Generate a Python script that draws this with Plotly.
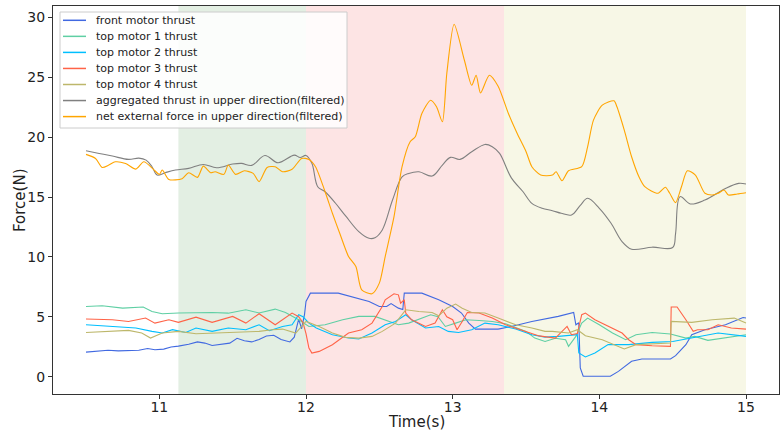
import plotly.graph_objects as go

# ---- thrust / force traces (time in s, force in N) ----
t_front = [10.50, 10.58, 10.65, 10.72, 10.80, 10.86, 10.92, 10.97, 11.03, 11.08, 11.13, 11.20, 11.26, 11.31,
           11.36, 11.42, 11.48, 11.53, 11.58, 11.63, 11.68, 11.73, 11.78, 11.83, 11.89, 11.92, 11.95, 11.97,
           11.99, 12.00, 12.03, 12.22, 12.34, 12.43, 12.50, 12.55, 12.58, 12.63, 12.66, 12.67, 12.79, 12.905,
           13.00, 13.06, 13.11, 13.155, 13.31, 13.40, 13.54, 13.655, 13.72, 13.825, 13.84, 13.86, 13.87, 13.89,
           14.075, 14.13, 14.22, 14.29, 14.485, 14.52, 14.59, 14.63, 14.72, 14.86, 14.98, 15.00]
f_front = [2.05, 2.12, 2.2, 2.15, 2.2, 2.2, 2.35, 2.25, 2.3, 2.47, 2.55, 2.7, 2.9, 2.8,
           2.6, 2.7, 2.8, 3.2, 3.0, 2.9, 3.1, 3.4, 3.45, 3.1, 2.9, 3.3, 4.8, 4.0,
           5.2, 6.28, 6.97, 6.97, 6.56, 6.28, 5.86, 5.86, 6.1, 5.72, 5.6, 6.97, 6.97, 6.42,
           5.86, 5.31, 4.47, 3.97, 3.97, 4.19, 4.61, 4.89, 5.03, 5.36, 4.33, 4.5, 0.72, 0.03,
           0.03, 0.44, 1.28, 1.47, 1.47, 1.75, 2.67, 3.5, 3.92, 4.33, 4.94, 4.9]

t_top1 = [10.50, 10.61, 10.75, 10.89, 10.95, 11.02, 11.13, 11.36, 11.47, 11.59, 11.68, 11.79, 11.86, 11.95,
          12.02, 12.09, 12.13, 12.25, 12.36, 12.47, 12.56, 12.63, 12.70, 12.77, 12.85, 12.90, 12.95, 13.02,
          13.09, 13.18, 13.27, 13.36, 13.50, 13.56, 13.63, 13.70, 13.77, 13.79, 13.84, 13.88, 13.92, 14.00,
          14.09, 14.18, 14.25, 14.36, 14.485, 14.59, 14.65, 14.74, 14.86, 15.00]
f_top1 = [5.86, 5.92, 5.72, 5.81, 5.44, 5.25, 5.31, 5.36, 5.3, 5.58, 5.31, 5.64, 5.36, 4.75,
          4.19, 4.25, 4.33, 4.75, 5.03, 5.03, 4.61, 4.33, 4.47, 4.81, 5.17, 5.0, 4.19, 4.47,
          4.75, 4.69, 4.61, 4.42, 3.78, 3.22, 2.94, 3.2, 3.08, 2.53, 3.36, 4.47, 4.89, 4.33,
          3.64, 3.08, 3.5, 3.69, 3.56, 3.22, 3.36, 3.03, 3.22, 3.5]

t_top2 = [10.50, 10.68, 10.84, 10.95, 11.02, 11.09, 11.18, 11.25, 11.36, 11.47, 11.59, 11.68, 11.75, 11.84,
          11.905, 11.95, 11.98, 12.02, 12.07, 12.18, 12.29, 12.36, 12.45, 12.54, 12.61, 12.68, 12.72, 12.815,
          12.905, 12.97, 13.04, 13.13, 13.22, 13.31, 13.43, 13.54, 13.63, 13.72, 13.85, 13.86, 13.905, 13.97,
          14.06, 14.20, 14.36, 14.50, 14.63, 14.81, 15.00]
f_top2 = [4.33, 4.19, 4.06, 3.78, 3.64, 3.92, 3.69, 4.06, 3.78, 4.06, 3.92, 4.33, 3.83, 4.19,
          4.33, 5.17, 5.0, 4.47, 4.06, 3.5, 3.22, 3.14, 3.64, 4.33, 4.61, 5.17, 4.75, 4.06,
          4.19, 3.78, 3.69, 3.92, 4.47, 4.33, 3.97, 3.5, 3.3, 3.36, 3.5, 1.97, 1.64, 1.97,
          2.67, 2.67, 2.86, 2.94, 3.22, 3.64, 3.36]

t_top3 = [10.50, 10.58, 10.68, 10.79, 10.85, 10.906, 10.97, 11.065, 11.13, 11.25, 11.36, 11.50, 11.59, 11.68,
          11.79, 11.86, 11.905, 11.95, 11.98, 12.00, 12.02, 12.04, 12.09, 12.18, 12.29, 12.38, 12.45, 12.52,
          12.54, 12.60, 12.63, 12.645, 12.67, 12.68, 12.72, 12.815, 12.88, 12.93, 12.96, 13.00, 13.03, 13.065,
          13.10, 13.18, 13.27, 13.36, 13.50, 13.59, 13.70, 13.78, 13.81, 13.85, 13.88, 13.905, 13.97, 14.06,
          14.155, 14.20, 14.25, 14.36, 14.485, 14.49, 14.53, 14.59, 14.64, 14.67, 14.74, 14.81, 14.90, 15.00]
f_top3 = [4.81, 4.8, 4.75, 4.61, 4.75, 4.89, 4.47, 4.75, 4.53, 4.97, 4.53, 5.03, 4.47, 5.25,
          4.33, 4.97, 5.31, 5.0, 4.5, 3.6, 2.39, 1.97, 2.11, 2.67, 3.64, 3.92, 4.47, 5.86,
          6.42, 6.92, 6.83, 6.14, 6.42, 5.31, 4.75, 4.19, 4.47, 5.58, 5.0, 4.75, 3.92, 4.61,
          5.36, 5.31, 4.89, 4.33, 3.78, 3.4, 3.22, 4.19, 3.5, 3.6, 5.17, 5.31, 4.75, 4.19,
          3.64, 3.08, 2.67, 2.58, 2.53, 5.81, 5.81, 4.75, 3.78, 3.92, 3.92, 4.33, 4.06, 3.97]

t_top4 = [10.50, 10.63, 10.79, 10.88, 10.94, 11.02, 11.13, 11.25, 11.405, 11.55, 11.68, 11.77, 11.84, 11.93,
          11.97, 12.00, 12.09, 12.18, 12.27, 12.36, 12.45, 12.52, 12.61, 12.68, 12.77, 12.86, 12.905, 12.96,
          13.02, 13.065, 13.13, 13.22, 13.31, 13.43, 13.54, 13.63, 13.68, 13.79, 13.85, 13.905, 14.02, 14.11,
          14.17, 14.25, 14.36, 14.485, 14.49, 14.63, 14.77, 14.92, 15.00]
f_top4 = [3.69, 3.78, 3.86, 3.64, 3.22, 3.64, 3.78, 3.58, 3.64, 3.7, 3.78, 3.92, 3.97, 3.64,
          4.19, 4.61, 4.19, 3.64, 3.28, 3.22, 3.36, 3.78, 4.47, 5.58, 5.44, 5.36, 5.08, 5.72,
          6.06, 5.72, 5.36, 5.31, 4.89, 4.33, 4.06, 3.78, 3.78, 3.64, 3.92, 3.42, 3.08, 2.58,
          2.31, 2.67, 2.75, 2.81, 4.61, 4.53, 4.75, 4.89, 4.47]

t_agg = [10.50, 10.59, 10.68, 10.79, 10.86, 10.91, 10.95, 10.985, 11.04, 11.11, 11.20, 11.30, 11.39, 11.50,
         11.56, 11.63, 11.72, 11.81, 11.92, 11.96, 12.00, 12.04, 12.08, 12.13, 12.20, 12.27, 12.36, 12.43,
         12.47, 12.52, 12.59, 12.655, 12.70, 12.77, 12.86, 12.93, 12.985, 13.05, 13.13, 13.22, 13.27, 13.32,
         13.40, 13.48, 13.54, 13.61, 13.68, 13.74, 13.81, 13.87, 13.92, 14.00, 14.08, 14.155, 14.22, 14.36,
         14.50, 14.52, 14.55, 14.62, 14.72, 14.86, 14.95, 15.00]
f_agg = [18.86, 18.64, 18.42, 18.14, 18.25, 18.08, 17.53, 16.83, 17.03, 17.25, 17.39, 17.72, 17.44, 17.75,
         17.81, 17.64, 18.47, 17.86, 18.5, 18.3, 18.47, 17.81, 15.86, 15.44, 14.5, 13.42, 12.11, 11.55,
         11.6, 12.25, 14.75, 16.69, 16.97, 17.11, 16.75, 17.67, 18.31, 18.14, 18.78, 19.39, 19.2, 18.64,
         16.6, 15.44, 14.47, 14.06, 13.86, 13.64, 13.5, 14.3, 14.89, 14.06, 12.81, 11.28, 10.64, 10.81,
         10.78, 11.97, 15.03, 14.42, 14.75, 15.72, 16.14, 16.08]

t_net = [10.50, 10.565, 10.61, 10.656, 10.70, 10.77, 10.84, 10.894, 10.96, 11.00, 11.02, 11.065, 11.155, 11.20,
         11.26, 11.30, 11.35, 11.38, 11.44, 11.47, 11.52, 11.58, 11.64, 11.68, 11.735, 11.79, 11.84, 11.905,
         11.97, 12.02, 12.065, 12.13, 12.18, 12.23, 12.29, 12.34, 12.38, 12.45, 12.50, 12.54, 12.60, 12.655,
         12.71, 12.745, 12.79, 12.85, 12.89, 12.93, 12.96, 13.01, 13.08, 13.13, 13.16, 13.19, 13.25, 13.31,
         13.38, 13.44, 13.50, 13.54, 13.60, 13.68, 13.705, 13.745, 13.79, 13.88, 13.92, 13.96, 14.02, 14.10,
         14.12, 14.17, 14.22, 14.27, 14.31, 14.40, 14.45, 14.48, 14.52, 14.56, 14.60, 14.655, 14.72, 14.77,
         14.81, 14.85, 14.88, 14.94, 15.00]
f_net = [18.56, 18.22, 17.47, 17.67, 17.94, 17.8, 17.33, 17.94, 17.31, 16.89, 17.25, 16.47, 16.53, 17.03,
         16.64, 17.58, 17.03, 17.11, 16.89, 17.67, 16.89, 17.19, 16.97, 16.28, 17.47, 17.53, 17.11, 17.31,
         18.22, 18.14, 17.53, 15.44, 13.64, 11.97, 10.03, 9.19, 7.25, 6.92, 7.81, 10.03, 13.36, 17.53,
         19.61, 20.03, 21.97, 23.08, 22.53, 21.28, 25.31, 29.42, 26.42, 24.33, 25.17, 23.69, 25.17, 24.25,
         21.97, 20.3, 18.8, 17.53, 16.83, 16.83, 17.11, 16.36, 17.19, 17.53, 19.19, 21.42, 22.67, 23.03,
         22.53, 20.58, 18.36, 16.69, 15.86, 15.31, 15.81, 15.31, 14.53, 15.86, 17.19, 16.83, 15.31, 15.17,
         15.31, 15.58, 15.17, 15.25, 15.36]

# flight phases shaded behind the curves: (start, end, colour)
phases = [(11.13, 12.0, "#e3efe3"), (12.0, 13.35, "#fde4e4"), (13.35, 15.0, "#f7f7e6")]

# (legend label, time, force, colour, line shape, spline smoothing)
series = [
    ("front motor thrust", t_front, f_front, "#4169e1", "linear", None),
    ("top motor 1 thrust", t_top1, f_top1, "#5fcfa4", "linear", None),
    ("top motor 2 thrust", t_top2, f_top2, "#00bfff", "linear", None),
    ("top motor 3 thrust", t_top3, f_top3, "#ff6347", "linear", None),
    ("top motor 4 thrust", t_top4, f_top4, "#bdb76b", "linear", None),
    ("aggregated thrust in upper direction(filtered)", t_agg, f_agg, "#808080", "spline", 1.0),
    ("net external force in upper direction(filtered)", t_net, f_net, "#ffa500", "spline", 0.7),
]

W, H = 781, 436
M_L, M_R, M_T, M_B = 53, 2, 6, 42
PW, PH = W - M_L - M_R, H - M_T - M_B


def px_x(px):
    """page pixel column -> paper x"""
    return (px - M_L) / PW


def px_y(py):
    """page pixel row -> paper y"""
    return (H - M_B - py) / PH


fig = go.Figure()
for name, t, f, color, shape, smooth in series:
    fig.add_trace(go.Scatter(
        x=t, y=f, mode="lines", name=name, showlegend=False,
        line=dict(color=color, width=1.1, shape=shape, smoothing=smooth),
    ))

for x0, x1, color in phases:
    fig.add_vrect(x0=x0, x1=x1, fillcolor=color, line_width=0, layer="below")

# compact legend box in the upper-left corner
LEG_LEFT, LEG_RIGHT, LEG_TOP, LEG_BOTTOM = 60, 347, 12, 128
ROW0, ROW_STEP = 20.3, 16.05
fig.add_shape(type="rect", xref="paper", yref="paper",
              x0=px_x(LEG_LEFT), x1=px_x(LEG_RIGHT), y0=px_y(LEG_BOTTOM), y1=px_y(LEG_TOP),
              fillcolor="rgba(255,255,255,0.85)", line=dict(color="#cccccc", width=1), layer="above")
for i, (name, _, _, color, _, _) in enumerate(series):
    row = ROW0 + i * ROW_STEP
    fig.add_shape(type="line", xref="paper", yref="paper",
                  x0=px_x(63), x1=px_x(86), y0=px_y(row), y1=px_y(row),
                  line=dict(color=color, width=1.5), layer="above")
    fig.add_annotation(text=name, xref="paper", yref="paper", x=px_x(94), y=px_y(row),
                       xanchor="left", yanchor="middle", showarrow=False,
                       font=dict(family="DejaVu Sans", size=11, color="#222222"))

# axis titles
fig.add_annotation(text="Time(s)", xref="paper", yref="paper", x=px_x(416), y=px_y(422),
                   xanchor="center", yanchor="middle", showarrow=False,
                   font=dict(family="DejaVu Sans", size=15, color="#222222"))
fig.add_annotation(text="Force(N)", xref="paper", yref="paper", x=px_x(20), y=px_y(200),
                   xanchor="center", yanchor="middle", showarrow=False, textangle=-90,
                   font=dict(family="DejaVu Sans", size=15, color="#222222"))

axis_common = dict(
    showline=True, mirror=True, linecolor="#333333", linewidth=1.3,
    ticks="outside", ticklen=4, tickcolor="#333333", showgrid=False, zeroline=False,
    tickfont=dict(family="DejaVu Sans", size=14, color="#222222"),
)

fig.update_layout(
    width=W, height=H,
    margin=dict(l=M_L, r=M_R, t=M_T, b=M_B),
    paper_bgcolor="white", plot_bgcolor="white",
    font=dict(family="DejaVu Sans", color="#222222"),
    xaxis=dict(range=[10.275, 15.225], tickvals=[11, 12, 13, 14, 15], ticklabelstandoff=-4, **axis_common),
    yaxis=dict(range=[-1.45, 30.95], tickvals=[0, 5, 10, 15, 20, 25, 30], **axis_common),
    showlegend=False,
)

fig.write_html("out.html")
